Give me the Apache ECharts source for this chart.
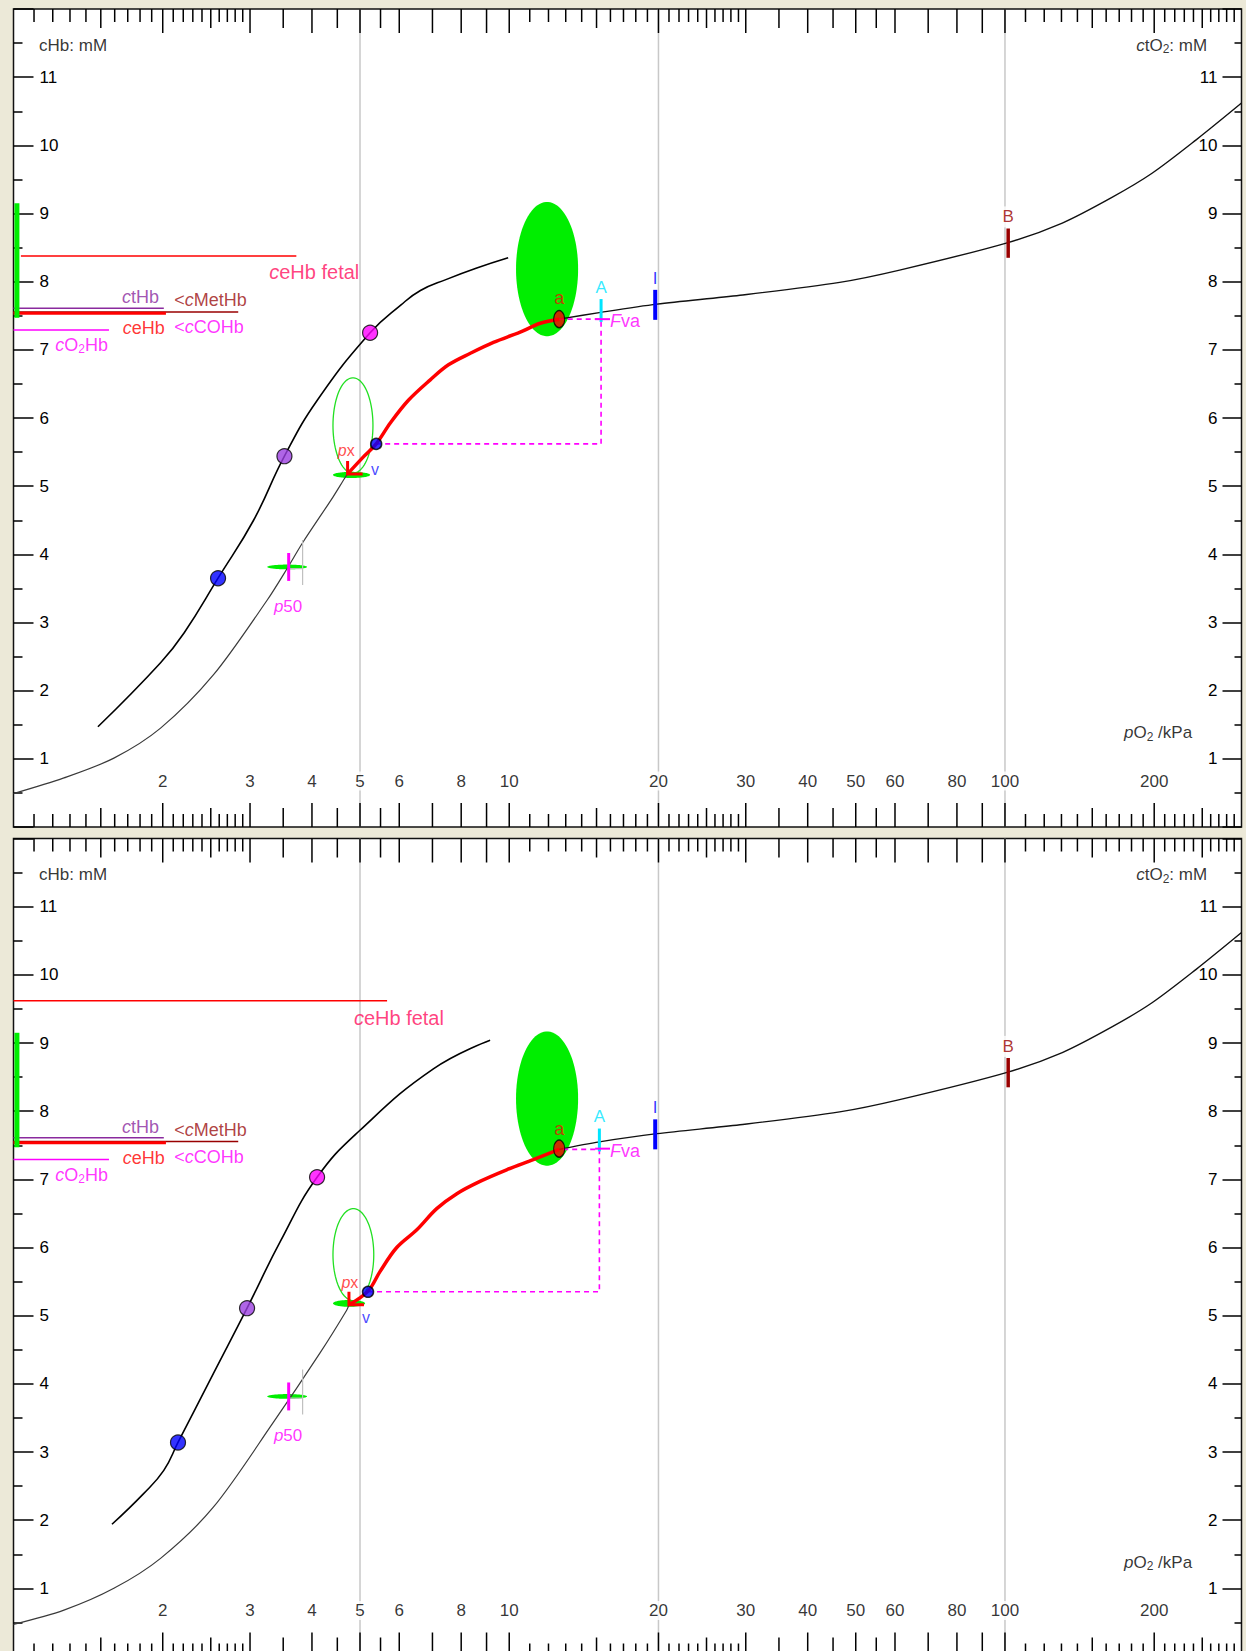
<!DOCTYPE html>
<html><head><meta charset="utf-8">
<script src="https://cdn.jsdelivr.net/npm/echarts@6/dist/echarts.min.js"></script>
<style>html,body{margin:0;padding:0;background:#ece9d8;overflow:hidden;}#c{width:1246px;height:1660px;}</style>
</head><body><div id="c"></div>
<script>
const FONT = '"Liberation Sans", Arial, sans-serif';

// ---------- x axis (pO2 / kPa, log) ----------
const xTickLong = [2,3,4,5,6,7,8,9,10,20,30,40,50,60,70,80,90,100,200];
const xTickMid = [1.5,2.5,3.5,4.5,5.5,15,25,35,45,55,150,250];
const xTickShort = [1.1,1.2,1.3,1.4,1.6,1.7,1.8,1.9,2.1,2.2,2.3,2.4,2.6,2.7,2.8,2.9,
  11,12,13,14,16,17,18,19,21,22,23,24,26,27,28,29,
  110,120,130,140,160,170,180,190,210,220,230,240,260,270,280,290];
const xTickLabels = [2,3,4,5,6,8,10,20,30,40,50,60,80,100,200];
const refLinesP = [5,20,100];

// ---------- top panel ----------
const odcLowTop = [[1.0,0.49],[1.264,0.72],[1.594,1.01],[1.98,1.45],[2.53,2.23],[3.25,3.33],[3.57,3.80],[3.83,4.17],[4.41,4.84],[4.66,5.12],[4.72,5.18]];
const odcHighTop = [[12.61,7.45],[15.3,7.55],[19.86,7.67],[29.2,7.80],[46.4,7.99],[61.3,8.17],[101,8.57],[130.5,8.86],[164.7,9.24],[198,9.59],[243,10.08],[300,10.62]];
const fetalTop = [[1.48,1.47],[1.98,2.41],[2.21,2.85],[2.586,3.65],[3.05,4.50],[3.52,5.44],[4.10,6.26],[5.24,7.25],[6.05,7.66],[6.62,7.87],[7.45,8.03],[8.6,8.20],[9.95,8.35]];
const redTop = [[4.72,5.18],[5.08,5.43],[5.39,5.62],[5.76,5.93],[6.26,6.26],[6.93,6.56],[7.54,6.78],[8.35,6.95],[9.29,7.11],[10.52,7.26],[11.55,7.39],[12.61,7.45]];
const dotsTop = [[2.586,3.65],[3.52,5.44],[5.24,7.25]];
const vPointTop = [5.39,5.62];
const dashTop = [[5.39,5.62],[15.32,5.62],[15.32,7.45],[12.61,7.45]];
const fetalLevelTop = [[1.035,8.375],[3.72,8.375]];
const outlineTop = [4.41,5.31,5.19,6.59];
const pxBarTop = [4.41,5.24,5.12,5.21];

// ---------- bottom panel ----------
const odcLowBot = [[1.0,0.47],[1.264,0.68],[1.594,1.0],[1.98,1.44],[2.53,2.19],[3.34,3.43],[4.15,4.45],[4.70,5.08],[4.75,5.16]];
const odcHighBot = [[12.61,7.44],[15.2,7.55],[19.86,7.67],[29.2,7.80],[46.4,7.99],[61.3,8.17],[101,8.57],[130.5,8.86],[164.7,9.24],[198,9.59],[243,10.08],[300,10.62]];
const fetalBot = [[1.58,1.94],[1.83,2.39],[2.01,2.73],[2.147,3.14],[2.53,4.15],[2.959,5.11],[3.46,6.10],[4.096,7.03],[5.0,7.72],[7.03,8.62],[9.15,9.04]];
const redBot = [[4.75,5.16],[5.19,5.36],[5.49,5.65],[5.93,6.00],[6.51,6.26],[7.14,6.57],[7.84,6.79],[8.73,6.97],[9.88,7.14],[11.18,7.29],[12.61,7.44]];
const dotsBot = [[2.147,3.14],[2.959,5.11],[4.096,7.03]];
const vPointBot = [5.19,5.35];
const dashBot = [[5.19,5.35],[15.2,5.35],[15.2,7.44],[12.61,7.44]];
const fetalLevelBot = [[1.0,9.62],[5.67,9.62]];
const outlineBot = [4.41,5.33,5.22,6.57];
const pxBarBot = [4.41,5.12,5.13,5.23];

// ---------- shared ----------
const aPoint = [12.61,7.45];
const ctHbLevel = [[1,7.61],[2.01,7.61]];
const metHbLevel = [[1,7.555],[2.84,7.555]];
const ceHbLevel = [[1,7.535],[2.03,7.535]];
const o2HbLevel = [[1,7.29],[1.558,7.29]];
const greenBarLeft = [[1.016,7.47],[1.016,9.15]];
const bigGreen = [10.32,13.77,7.20,9.17];
const p50Bar = [3.25,3.91,3.78,3.85];
const p50Mark = [[3.59,3.61],[3.59,4.02]];
const p50Grey = [[3.83,3.55],[3.83,4.21]];
const p50GreyH = [[3.59,3.79],[3.83,3.79]];
const iMark = [[19.7,7.44],[19.7,7.88]];
const bMark = [[101.5,8.35],[101.5,8.78]];
const dotColors = ['#0000ff','#9b3fe0','#ff00ff'];

const panels = [
  {odcLow:odcLowTop, odcHigh:odcHighTop, fetal:fetalTop, red:redTop, dots:dotsTop, vPt:vPointTop, dash:dashTop,
   fetalLevel:fetalLevelTop, outline:outlineTop, pxBar:pxBarTop, tip:redTop[0], fva:15.32,
   fetalLabel:[3.28,8.14], px:[4.69,5.52], v:[5.36,5.24], aLab:7.76},
  {odcLow:odcLowBot, odcHigh:odcHighBot, fetal:fetalBot, red:redBot, dots:dotsBot, vPt:vPointBot, dash:dashBot,
   fetalLevel:fetalLevelBot, outline:outlineBot, pxBar:pxBarBot, tip:redBot[0], fva:15.2,
   fetalLabel:[4.86,9.36], px:[4.77,5.49], v:[5.14,4.97], aLab:7.74}
];

function rich(c, fs) {
  return {
    i:{fontStyle:'italic', color:c, fontSize:fs, fontFamily:FONT},
    s:{color:c, fontSize:Math.round(fs*0.68), fontFamily:FONT, padding:[Math.round(fs*0.45),0,0,0]}
  };
}
function line(i, data, color, width, z, extra) {
  return Object.assign({type:'line', xAxisIndex:i, yAxisIndex:2*i, data:data, symbol:'none', showSymbol:false,
    lineStyle:{color:color, width:width}, z:z, silent:true, animation:false}, extra || {});
}
function ellipse(i, box, fill, stroke, lw, z) {
  return {type:'custom', xAxisIndex:i, yAxisIndex:2*i, data:[box], z:z, silent:true, animation:false,
    encode:{x:[0,1], y:[2,3]},
    renderItem:function(params, api){
      const a = api.coord([api.value(0), api.value(2)]);
      const b = api.coord([api.value(1), api.value(3)]);
      const cx=(a[0]+b[0])/2, cy=(a[1]+b[1])/2, rx=Math.abs(b[0]-a[0])/2, ry=Math.abs(b[1]-a[1])/2;
      const pts=[];
      for (let k=0;k<90;k++){const t=k/90*2*Math.PI; pts.push([cx+rx*Math.cos(t), cy+ry*Math.sin(t)]);}
      return {type:'polygon', shape:{points:pts}, style:{fill:fill, stroke:stroke, lineWidth:lw}};
    }};
}
function texts(i, items) {
  return {type:'scatter', xAxisIndex:i, yAxisIndex:2*i, symbolSize:1, itemStyle:{color:'rgba(0,0,0,0)'},
    z:9, silent:true, animation:false, clip:false,
    data: items.map(function(it){ return {value:[it.p, it.v], label:{show:true, position:'inside',
      formatter:function(){return it.t;}, color:it.c, fontSize:it.fs, fontFamily:FONT,
      align:it.a || 'center', verticalAlign:'middle', backgroundColor:it.bg || 'transparent',
      padding:it.pad || 0, offset:it.off || [0,0], rich:rich(it.c, it.fs)}}; })};
}

const tickData = [].concat(xTickShort.map(p=>[p,0]), xTickMid.map(p=>[p,1]), xTickLong.map(p=>[p,2]));
const TLEN = [13,19,24];

function panelSeries(i) {
  const d = panels[i];
  const s = [];
  refLinesP.forEach(p => s.push(line(i, [[p,0],[p,12]], '#c8c8c8', 1.5, 1)));
  s.push({type:'custom', xAxisIndex:i, yAxisIndex:2*i, data:tickData, z:2, silent:true, animation:false,
    renderItem:function(params, api){
      const p = api.value(0), L = TLEN[api.value(1)];
      const b = api.coord([p,0]), t = api.coord([p,12]);
      return {type:'group', children:[
        {type:'line', shape:{x1:b[0],y1:b[1],x2:b[0],y2:b[1]-L}, style:{stroke:'#000', lineWidth:1.5}},
        {type:'line', shape:{x1:t[0],y1:t[1],x2:t[0],y2:t[1]+L}, style:{stroke:'#000', lineWidth:1.5}}]};
    }});
  s.push(line(i, d.fetalLevel, '#ff0000', 1.5, 3));
  s.push(line(i, ctHbLevel, '#8a2a9e', 1.5, 3));
  s.push(line(i, metHbLevel, '#990000', 1.5, 3));
  s.push(line(i, ceHbLevel, '#ff0000', 3, 3));
  s.push(line(i, o2HbLevel, '#ff00ff', 1.5, 3));
  s.push(line(i, greenBarLeft, '#00ee00', 5, 3));
  s.push(ellipse(i, bigGreen, '#00ee00', null, 0, 2));
  s.push(ellipse(i, d.outline, 'none', '#22e022', 1.3, 2));
  s.push(ellipse(i, d.pxBar, '#00ee00', null, 0, 2));
  s.push(ellipse(i, p50Bar, '#00ee00', null, 0, 2));
  s.push(line(i, d.odcLow, '#3a3a3a', 1.2, 4, {smooth:0.3}));
  s.push(line(i, d.odcHigh, '#111', 1.4, 4, {smooth:0.3}));
  s.push(line(i, d.fetal, '#000', 1.6, 4, {smooth:0.45}));
  s.push(line(i, d.dash, '#ff00ff', 1.6, 4, {lineStyle:{color:'#ff00ff', width:1.6, type:[5,4]}}));
  s.push(line(i, d.red, '#ff0000', 3.5, 5, {smooth:0.35}));
  s.push({type:'custom', xAxisIndex:i, yAxisIndex:2*i, data:[d.tip], z:6, silent:true, animation:false,
    renderItem:function(params, api){
      const c = api.coord([api.value(0), api.value(1)]);
      return {type:'polyline', shape:{points:[[c[0],c[1]-13],[c[0],c[1]],[c[0]+15,c[1]]]},
        style:{stroke:'#ff0000', lineWidth:3, fill:'none'}};
    }});
  s.push(line(i, p50GreyH, '#c0c0c0', 1.2, 5));
  s.push(line(i, p50Grey, '#c0c0c0', 1.2, 5));
  s.push(line(i, p50Mark, '#ff00ff', 3, 6));
  s.push(line(i, [[d.fva,7.41],[d.fva,7.745]], '#00e5ff', 3, 6));
  s.push(line(i, [[14.9,7.45],[15.97,7.45]], '#ff00ff', 2, 6));
  s.push(line(i, iMark, '#0000ff', 4, 6));
  s.push(line(i, bMark, '#990000', 3.5, 6));
  s.push({type:'scatter', xAxisIndex:i, yAxisIndex:2*i, z:7, silent:true, animation:false, symbolSize:15,
    data:d.dots.map((pt,k)=>({value:pt, itemStyle:{color:dotColors[k], borderColor:'#000', borderWidth:1.2}}))});
  s.push({type:'scatter', xAxisIndex:i, yAxisIndex:2*i, z:7, silent:true, animation:false, symbolSize:11,
    data:[d.vPt], itemStyle:{color:'#0000ff', borderColor:'#000', borderWidth:1.5}});
  s.push({type:'scatter', xAxisIndex:i, yAxisIndex:2*i, z:7, silent:true, animation:false, symbolSize:[11,17],
    data:[aPoint], itemStyle:{color:'#ff0000', borderColor:'#000', borderWidth:1.2}});
  const T = [
    {t:'{i|c}eHb fetal', p:d.fetalLabel[0], v:d.fetalLabel[1], c:'#ff1060', fs:20, a:'left'},
    {t:'{i|c}tHb', p:1.966, v:7.77, c:'#8a2a9e', fs:18, a:'right'},
    {t:'<{i|c}MetHb', p:2.11, v:7.73, c:'#9b1010', fs:18, a:'left'},
    {t:'{i|c}eHb', p:2.02, v:7.32, c:'#ff0000', fs:18, a:'right'},
    {t:'<{i|c}COHb', p:2.11, v:7.33, c:'#ff00ff', fs:18, a:'left'},
    {t:'{i|c}O{s|2}Hb', p:1.551, v:7.07, c:'#ff00ff', fs:18, a:'right'},
    {t:'a', p:12.61, v:d.aLab, c:'#ee1100', fs:18},
    {t:'A', p:d.fva, v:7.92, c:'#00e5ff', fs:17},
    {t:'{i|F}va', p:15.97, v:7.42, c:'#ff00ff', fs:18, a:'left'},
    {t:'I', p:19.7, v:8.05, c:'#0000ff', fs:17},
    {t:'B', p:101.5, v:8.95, c:'#990000', fs:17, bg:'#fff', pad:[2,3]},
    {t:'{i|p}x', p:d.px[0], v:d.px[1], c:'#ff2020', fs:16},
    {t:'v', p:d.v[0], v:d.v[1], c:'#2020ff', fs:16},
    {t:'{i|p}50', p:3.58, v:3.24, c:'#ff00ff', fs:17},
    {t:'cHb: mM', p:1.126, v:11.47, c:'#000', fs:17, a:'left'},
    {t:'{i|c}tO{s|2}: mM', p:255.7, v:11.47, c:'#000', fs:17, a:'right'},
    {t:'{i|p}O{s|2} /kPa', p:238.5, v:1.38, c:'#000', fs:17, a:'right'}
  ];
  xTickLabels.forEach(p => T.push({t:String(p), p:p, v:0, c:'#000', fs:17, bg:'#fff', pad:[1,2], off:[0,-46]}));
  s.push(texts(i, T));
  return s;
}

function yAx(i, pos) {
  const L = pos === 'left';
  return {type:'value', gridIndex:i, position:pos, min:0, max:12, interval:1,
    axisLine:{show:false}, splitLine:{show:false},
    axisTick:{show:true, inside:true, length:L?20:19, lineStyle:{color:'#000', width:1.5}},
    minorTick:{show:true, splitNumber:2, length:L?9:7, lineStyle:{color:'#000', width:1.5}},
    axisLabel:{show:true, inside:true, margin:L?26:24, color:'#000', fontSize:17, fontFamily:FONT,
      formatter:v => (v>0 && v<12) ? String(v) : ''}};
}
function xAx(i) {
  return {type:'log', logBase:10, gridIndex:i, min:1, max:300, axisLine:{show:false}, axisTick:{show:false},
    axisLabel:{show:false}, splitLine:{show:false}, minorTick:{show:false}};
}

const chart = echarts.init(document.getElementById('c'), null, {renderer:'svg'});
chart.setOption({
  animation:false,
  backgroundColor:'#ece9d8',
  grid:[
    {left:13.5, top:9, width:1228, height:818, show:true, backgroundColor:'#fff', borderColor:'#111', borderWidth:1.5},
    {left:13.5, top:838.5, width:1228, height:818, show:true, backgroundColor:'#fff', borderColor:'#111', borderWidth:1.5}
  ],
  xAxis:[xAx(0), xAx(1)],
  yAxis:[yAx(0,'left'), yAx(0,'right'), yAx(1,'left'), yAx(1,'right')],
  series:[].concat(panelSeries(0), panelSeries(1))
});
</script></body></html>
